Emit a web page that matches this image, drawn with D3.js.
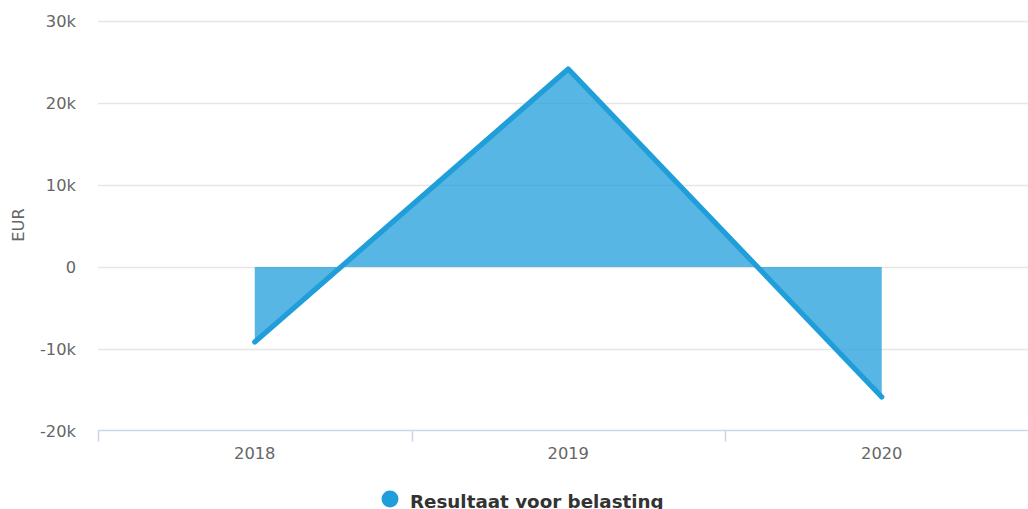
<!DOCTYPE html>
<html><head><meta charset="utf-8">
<script src="https://cdnjs.cloudflare.com/ajax/libs/d3/7.8.5/d3.min.js"></script>
<style>
html,body{margin:0;padding:0;background:#fff;}
svg{display:block;font-family:"DejaVu Sans",sans-serif;}
</style></head>
<body><svg id="c" width="1028" height="509"></svg>
<script>
const categories = ["2018", "2019", "2020"];
const values = [-9150, 24150, -15850];
const yTicks = [-20000, -10000, 0, 10000, 20000, 30000];
const yTickLabels = ["-20k", "-10k", "0", "10k", "20k", "30k"];
const seriesName = "Resultaat voor belasting";
const yTitle = "EUR";

const svg = d3.select("#c");
const lineColor = "#1f9ed9";
const x = d3.scaleBand().domain(categories).range([98, 1038.5]);
const y = d3.scaleLinear().domain([-20000, 30000]).range([431, 21]);
const cx = d => x(d) + x.bandwidth() / 2;

// grid
svg.append("g").selectAll("line").data(yTicks.filter(t => t !== -20000)).join("line")
  .attr("x1", 98).attr("x2", 1038).attr("y1", d => Math.round(y(d)) + 0.5).attr("y2", d => Math.round(y(d)) + 0.5)
  .attr("stroke", "#e6e6e6").attr("stroke-width", 1.5);

// y labels
svg.append("g").selectAll("text").data(yTicks).join("text")
  .attr("x", 76).attr("y", d => y(d) + 6).attr("text-anchor", "end")
  .attr("font-size", 16.3).attr("fill", "#666").text((d, i) => yTickLabels[i]);

svg.append("text").attr("transform", "translate(24,225) rotate(-90)")
  .attr("text-anchor", "middle").attr("font-size", 16.3).attr("fill", "#666").text(yTitle);

// x axis
const xa = svg.append("g").attr("transform", "translate(0,430.5)");
xa.append("line").attr("x1", 98).attr("x2", 1038).attr("stroke", "#ccd6eb").attr("stroke-width", 1.5);
xa.selectAll("line.t").data(categories).join("line").attr("class", "t")
  .attr("x1", d => Math.round(x(d)) + 0.5).attr("x2", d => Math.round(x(d)) + 0.5)
  .attr("y1", 0).attr("y2", 11).attr("stroke", "#ccd6eb").attr("stroke-width", 1.5);
xa.selectAll("text").data(categories).join("text")
  .attr("x", d => cx(d)).attr("y", 28).attr("text-anchor", "middle")
  .attr("font-size", 16.3).attr("fill", "#666").text(d => d);

// area
const pts = categories.map((c, i) => [cx(c), y(values[i])]);
const area = d3.area().x(d => d[0]).y0(y(0)).y1(d => d[1]);
svg.append("path").datum(pts).attr("d", area).attr("fill", lineColor).attr("fill-opacity", 0.75);
svg.append("path").datum(pts).attr("d", d3.line()).attr("fill", "none")
  .attr("stroke", lineColor).attr("stroke-width", 5.2)
  .attr("stroke-linecap", "round").attr("stroke-linejoin", "round");

// legend
svg.append("circle").attr("cx", 390).attr("cy", 499).attr("r", 8.5).attr("fill", lineColor);
svg.append("text").attr("x", 410).attr("y", 507.5).attr("font-size", 18.3).attr("font-weight", "bold")
  .attr("fill", "#333").text(seriesName);
</script></body></html>
